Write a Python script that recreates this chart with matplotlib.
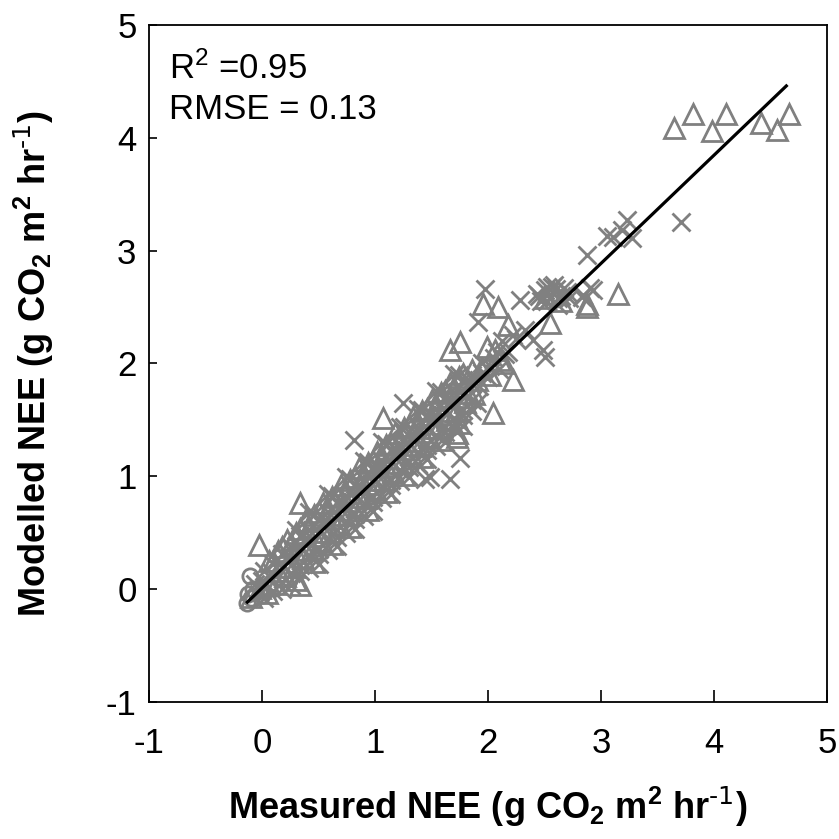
import matplotlib
matplotlib.use("Agg")
import matplotlib.pyplot as plt

plt.rcParams['font.family'] = ['Liberation Sans', 'DejaVu Sans']
plt.rcParams['mathtext.default'] = 'regular'
plt.rcParams['axes.unicode_minus'] = False

# open triangles
tri_x = [-0.10, -0.02, 0.06, 0.14, 0.22, 0.30, 0.38, 0.46, 0.54, 0.62, 0.70, 0.78, 0.86,
         0.94, 1.02, 1.10, 1.18, 1.26, 1.34, 1.42, 1.50, 1.58, 1.66, 1.74, 1.82, 1.90,
         0.06, 0.14, 0.22, 0.30, 0.38, 0.46, 0.54, 0.62, 0.70, 0.78, 0.86, 0.94, 1.02,
         1.10, 1.18, 1.26, 1.34, 1.42, 1.50, 1.58, 1.66, 1.74,
         0.30, 0.46, 0.62, 0.78, 0.94, 1.10, 1.26, 1.42, 1.58, 1.74, 1.73,
         0.04, 0.12, 0.20, 0.28, 0.36, 0.44, 0.52, 0.60, 0.68, 0.76, 0.84, 0.92, 1.00,
         1.08, 1.16, 1.24, 1.32, 1.40, 1.48, 1.56, 1.64, 1.72, 1.80, 1.88,
         0.10, 0.26, 0.42, 0.58, 0.74, 0.90, 1.06, 1.22, 1.38, 1.54, 1.70, 1.86,
         0.18, 0.34, 0.50, 0.66, 0.82, 0.98, 1.14, 1.30, 1.46, 1.62, 1.78,
         1.94, 2.02, 2.06, 2.14,
         -0.03, 0.34, 0.34, 1.07, 1.66, 1.75, 1.96, 1.99, 2.04, 2.09, 2.11, 2.18, 2.22,
         1.73, 2.55, 2.50, 2.60, 2.65, 2.88, 2.88, 3.15,
         3.65, 3.81, 3.98, 4.11, 4.42, 4.56, 4.66]
tri_y = [-0.07, 0.01, 0.05, 0.16, 0.20, 0.32, 0.35, 0.47, 0.51, 0.63, 0.66, 0.78, 0.82,
         0.93, 0.97, 1.09, 1.12, 1.24, 1.28, 1.39, 1.43, 1.55, 1.58, 1.70, 1.74, 1.85,
         0.25, 0.34, 0.44, 0.50, 0.60, 0.66, 0.76, 0.82, 0.92, 0.97, 1.07, 1.12, 1.22,
         1.28, 1.38, 1.43, 1.53, 1.58, 1.68, 1.74, 1.83, 1.88,
         0.08, 0.24, 0.40, 0.55, 0.70, 0.86, 1.01, 1.17, 1.32, 1.47, 1.38,
         -0.03, 0.05, 0.12, 0.20, 0.28, 0.35, 0.43, 0.51, 0.58, 0.66, 0.74, 0.81, 0.89,
         0.97, 1.04, 1.12, 1.20, 1.27, 1.35, 1.43, 1.50, 1.58, 1.66, 1.73,
         0.25, 0.40, 0.55, 0.71, 0.86, 1.01, 1.17, 1.32, 1.47, 1.63, 1.78, 1.94,
         0.37, 0.53, 0.68, 0.83, 0.99, 1.14, 1.29, 1.45, 1.60, 1.76, 1.91,
         1.95, 1.90, 2.12, 2.00,
         0.39, 0.76, 0.04, 1.52, 2.12, 2.19, 2.53, 2.15, 1.56, 2.50, 2.03, 2.34, 1.85,
         1.35, 2.36, 2.58, 2.62, 2.55, 2.50, 2.53, 2.62,
         4.09, 4.21, 4.06, 4.21, 4.13, 4.07, 4.21]

# crosses
crs_x = [-0.06, 0.02, 0.10, 0.18, 0.26, 0.34, 0.42, 0.50, 0.58, 0.66, 0.74, 0.82, 0.90,
         0.98, 1.06, 1.14, 1.22, 1.30, 1.38, 1.46, 1.54, 1.62, 1.70, 1.78, 1.86,
         0.02, 0.10, 0.18, 0.26, 0.34, 0.42, 0.50, 0.58, 0.66, 0.74, 0.82, 0.90, 0.98,
         1.06, 1.14, 1.22, 1.30, 1.38, 1.46, 1.54, 1.62, 1.70, 1.78, 1.86,
         0.50, 0.66, 0.82, 0.98, 1.14, 1.30, 1.46, 1.62, 1.78,
         0.42, 0.58, 0.74, 0.90, 1.06, 1.22, 1.38, 1.54, 1.70,
         0.00, 0.08, 0.16, 0.24, 0.32, 0.40, 0.48, 0.56, 0.64, 0.72, 0.80, 0.88, 0.96,
         1.04, 1.12, 1.20, 1.28, 1.36, 1.44, 1.52, 1.60, 1.68, 1.76, 1.84,
         0.18, 0.34, 0.50, 0.66, 0.82, 0.98, 1.14, 1.30, 1.46, 1.62, 1.78, 1.90,
         0.26, 0.42, 0.58, 0.74, 0.90, 1.06, 1.22, 1.38, 1.54, 1.70, 1.86,
         0.30, 0.46, 0.62, 0.78, 0.94, 1.10, 1.26, 1.42, 1.58, 1.74,
         1.92, 1.95, 2.00, 2.05, 2.10, 2.12, 2.18, 2.22,
         0.81, 1.25, 1.49, 1.44, 1.66, 1.75, 1.91, 1.97, 2.28, 2.40, 2.49, 2.50,
         1.95, 2.02, 2.08, 2.15, 2.25, 2.33,
         2.45, 2.50, 2.55, 2.60, 2.65, 2.70, 2.47, 2.58,
         2.43, 2.52, 2.57, 2.62, 2.67, 2.52, 2.62, 2.72,
         2.84, 2.93, 2.90, 2.83, 2.88, 3.05, 3.11, 3.19, 3.23, 3.27, 3.71]
crs_y = [0.05, 0.16, 0.22, 0.31, 0.37, 0.47, 0.52, 0.62, 0.68, 0.77, 0.83, 0.93, 0.98,
         1.08, 1.14, 1.23, 1.29, 1.39, 1.44, 1.54, 1.60, 1.70, 1.75, 1.85, 1.90,
         -0.08, -0.02, 0.06, 0.14, 0.21, 0.30, 0.36, 0.45, 0.52, 0.60, 0.67, 0.76, 0.82,
         0.91, 0.97, 1.06, 1.13, 1.22, 1.28, 1.37, 1.44, 1.52, 1.59, 1.68,
         0.22, 0.38, 0.53, 0.69, 0.84, 0.99, 1.15, 1.30, 1.45,
         0.68, 0.84, 0.99, 1.14, 1.30, 1.44, 1.60, 1.76, 1.91,
         0.07, 0.15, 0.22, 0.30, 0.38, 0.45, 0.53, 0.61, 0.68, 0.76, 0.84, 0.91, 0.99,
         1.07, 1.15, 1.22, 1.30, 1.38, 1.45, 1.53, 1.61, 1.68, 1.76, 1.84,
         0.00, 0.16, 0.31, 0.46, 0.62, 0.77, 0.92, 1.08, 1.23, 1.39, 1.54, 1.65,
         0.04, 0.19, 0.35, 0.50, 0.65, 0.81, 0.96, 1.11, 1.27, 1.42, 1.58,
         0.52, 0.67, 0.83, 0.98, 1.13, 1.29, 1.44, 1.59, 1.75, 1.90,
         1.80, 2.00, 1.88, 2.05, 1.95, 2.20, 2.10, 2.25,
         1.32, 1.65, 0.99, 0.98, 0.98, 1.16, 2.37, 2.66, 2.56, 2.21, 2.12, 2.06,
         1.92, 1.98, 2.10, 2.08, 2.22, 2.30,
         2.60, 2.65, 2.58, 2.66, 2.60, 2.63, 2.55, 2.70,
         2.62, 2.55, 2.68, 2.58, 2.67, 2.68, 2.52, 2.58,
         2.61, 2.65, 2.67, 2.59, 2.96, 3.13, 3.12, 3.18, 3.27, 3.11, 3.25]

# open circles
cir_x = [-0.13, -0.10, -0.08, -0.12, -0.11, 0.00, 0.05]
cir_y = [-0.12, -0.08, 0.00, -0.04, 0.12, -0.05, 0.00]

# fitted line
line_x = [-0.13, 4.64]
line_y = [-0.115, 4.46]

ticks = [-1, 0, 1, 2, 3, 4, 5]
grey = '#808080'

fig = plt.figure(figsize=(8.39, 8.39), dpi=100)
ax = fig.add_axes([0.1776, 0.1633, 0.8081, 0.8069])

ax.plot(tri_x, tri_y, linestyle='none', marker='^', markersize=14,
        markerfacecolor='none', markeredgecolor=grey, markeredgewidth=2.0)
ax.plot(crs_x, crs_y, linestyle='none', marker='x', markersize=13,
        color=grey, markeredgewidth=2.0)
ax.plot(cir_x, cir_y, linestyle='none', marker='o', markersize=11,
        markerfacecolor='none', markeredgecolor=grey, markeredgewidth=2.0)
ax.plot(line_x, line_y, color='black', linewidth=2.3)

ax.set_xlim(-1, 5)
ax.set_ylim(-1, 5)
ax.set_xticks(ticks)
ax.set_yticks(ticks)
ax.tick_params(axis='x', direction='in', length=9, width=1.2, labelsize=25, pad=18)
ax.tick_params(axis='y', direction='in', length=6, width=1.2, labelsize=25, pad=9)
for s in ax.spines.values():
    s.set_linewidth(1.3)

ax.set_xlabel(r'Measured NEE (g CO$_2$ m$^2$ hr$^{\text{-1}}$)', fontsize=26,
              fontweight='bold', labelpad=18)
ax.set_ylabel(r'Modelled NEE (g CO$_2$ m$^2$ hr$^{\text{-1}}$)', fontsize=26,
              fontweight='bold', labelpad=36)

ax.text(0.03, 0.935, 'R$^2$ =0.95', transform=ax.transAxes, fontsize=25, va='center')
ax.text(0.03, 0.875, 'RMSE = 0.13', transform=ax.transAxes, fontsize=25, va='center')

fig.savefig('out.png', dpi=100)
